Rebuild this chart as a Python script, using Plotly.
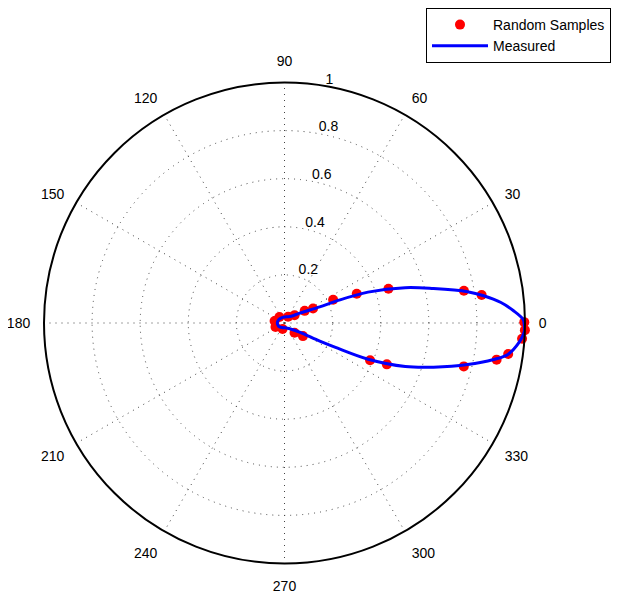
import plotly.graph_objects as go

# Measured pattern (angle in degrees, normalized magnitude)
measured_theta = [-180, -150, -120, -90, -60, -45, -31.0, -27.2, -25.6, -23.4, -19.8, -16.5,
                  -12.8, -9.9, -8.0, -4.8, -2.0, 0.0, 0.9, 3.0, 5.4, 7.8, 9.7, 13.0, 16.3,
                  20.3, 22.9, 24.6, 32.9, 45, 60, 90, 120, 150, 180]
measured_r = [0.030, 0.028, 0.022, 0.020, 0.025, 0.035, 0.073, 0.165, 0.232, 0.379, 0.534, 0.646,
              0.781, 0.883, 0.938, 0.978, 0.998, 0.996, 0.992, 0.955, 0.904, 0.836, 0.772, 0.636, 0.523,
              0.370, 0.236, 0.161, 0.075, 0.040, 0.030, 0.025, 0.025, 0.028, 0.030]

# Random samples (angle in degrees, normalized magnitude)
samples_theta = [10.2, 8.1, 18.2, 22.0, 25.5, 26.8, 31.0, 37.6, 0.2, -1.7, -3.8,
                 -7.9, -9.8, -13.6, -22.0, -23.5, -35.4, -44.0, 169, -156, 130, -108, 60]
samples_r = [0.758, 0.828, 0.455, 0.324, 0.224, 0.133, 0.098, 0.053, 0.997, 1.000, 0.990,
             0.939, 0.895, 0.767, 0.459, 0.388, 0.094, 0.058, 0.042, 0.041, 0.033, 0.026, 0.030]

angular_ticks = [0, 30, 60, 90, 120, 150, 180, 210, 240, 270, 300, 330]
radial_ticks = [0.2, 0.4, 0.6, 0.8, 1.0]
radial_labels = ["0.2", "0.4", "0.6", "0.8", "1"]

fig = go.Figure()
fig.add_trace(go.Scatterpolar(
    r=samples_r, theta=samples_theta, mode="markers", name="Random Samples",
    marker=dict(color="#ff0000", size=10, line=dict(width=0)),
))
fig.add_trace(go.Scatterpolar(
    r=measured_r, theta=measured_theta, mode="lines", name="Measured",
    line=dict(color="#0000ff", width=3, shape="spline", smoothing=1.0),
))

W, H = 619, 598
cx, cy, R = 276.5, 315, 240.5
fig.update_layout(
    width=W, height=H,
    margin=dict(l=0, r=0, t=0, b=0),
    paper_bgcolor="white",
    font=dict(family="Liberation Sans, Arial, sans-serif", size=14, color="black"),
    showlegend=True,
    legend=dict(
        x=418 / W, y=1.0, xanchor="left", yanchor="top",
        bgcolor="white", bordercolor="black", borderwidth=1,
        font=dict(size=14), itemwidth=56, tracegroupgap=0,
    ),
    polar=dict(
        domain=dict(x=[(cx - R) / W, (cx + R) / W], y=[(H - cy - R) / H, (H - cy + R) / H]),
        bgcolor="white",
        angularaxis=dict(
            direction="counterclockwise", rotation=0,
            tickmode="array", tickvals=angular_ticks,
            ticktext=[str(t) for t in angular_ticks],
            ticks="outside", ticklen=10, tickcolor="rgba(0,0,0,0)",
            showline=True, linecolor="black", linewidth=2,
            showgrid=True, gridcolor="#444444", gridwidth=1, griddash="1px,5px",
            tickfont=dict(size=14),
        ),
        radialaxis=dict(
            range=[0, 1], tickmode="array", tickvals=radial_ticks,
            ticktext=[t + "<br> " for t in radial_labels],
            angle=82, tickangle=82, side="clockwise",
            showline=False, ticks="",
            showgrid=True, gridcolor="#444444", gridwidth=1, griddash="1px,5px",
            tickfont=dict(size=14),
        ),
    ),
)

fig.write_html("out.html")
